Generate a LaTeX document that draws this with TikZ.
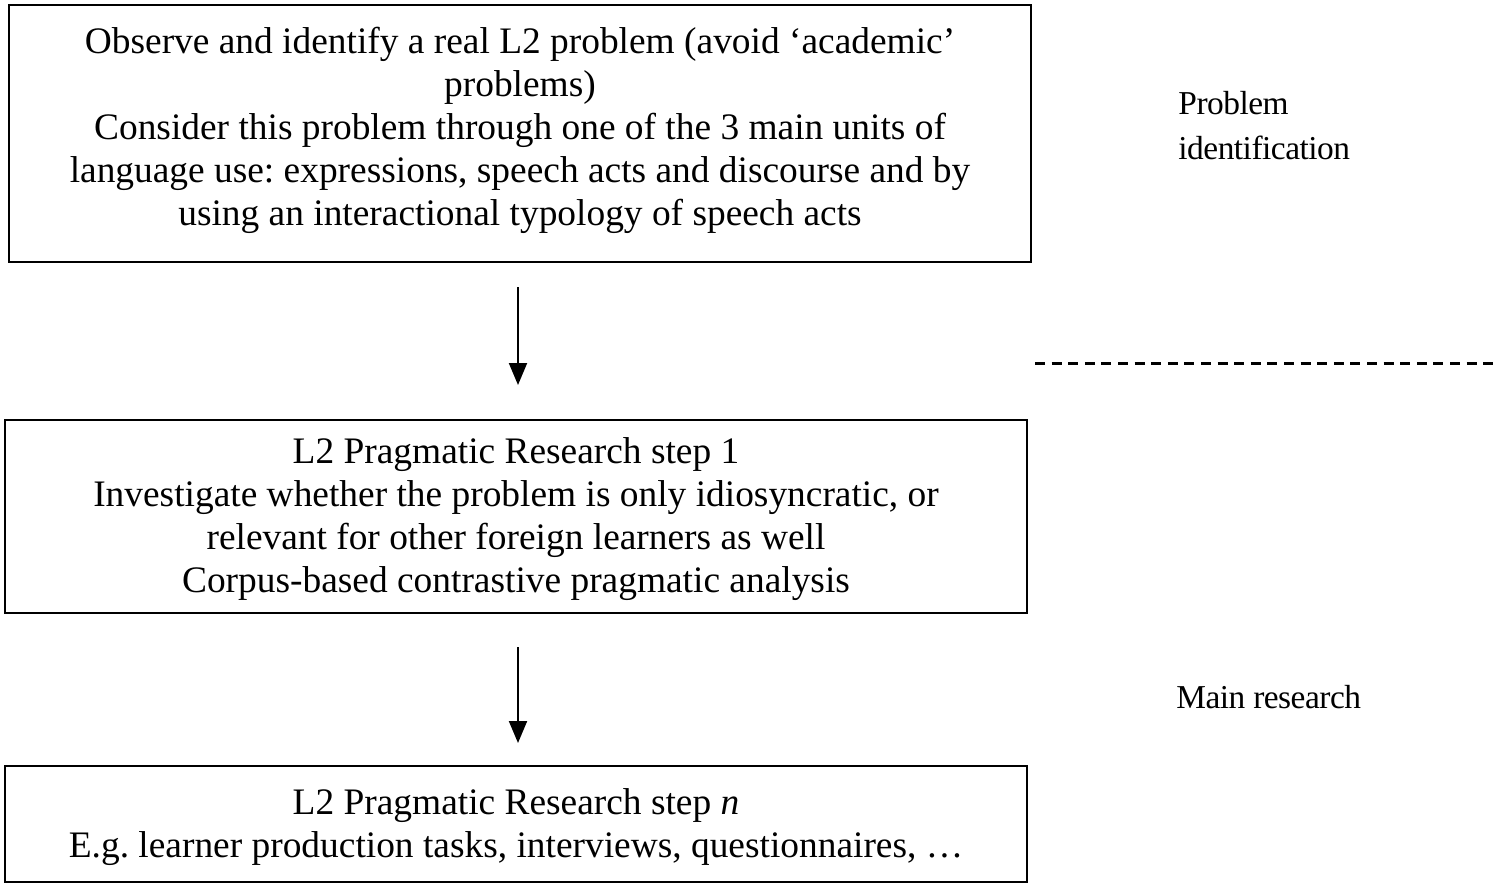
\documentclass[tikz,border=0pt]{standalone}
\usepackage{fontspec}
\setmainfont{Liberation Serif}
\newfontfamily\labelfont{Liberation Serif}[LetterSpace=-1.5]
\usetikzlibrary{arrows.meta}
\frenchspacing
\tikzset{
  stagebox/.style={draw, line width=1pt, rectangle, align=center, inner sep=0pt,
    font=\fontsize{18.7}{21.5}\selectfont},
  flowarrow/.style={line width=1pt, -{Triangle[width=9pt,length=11pt]}},
  sidelabel/.style={anchor=west, align=left, inner sep=0pt,
    font=\labelfont\fontsize{16.7}{22.5}\selectfont},
  divider/.style={line width=1.5pt, dash pattern=on 5pt off 3.3pt}
}
\begin{document}
\begin{tikzpicture}[x=0.5pt,y=-0.5pt]
\useasboundingbox (0,0) rectangle (1500,888);
\node[stagebox, minimum width=511pt, minimum height=128.5pt] (b1) at (520,133.5)
  {Observe and identify a real L2 problem (avoid ‘academic’\\problems)\\
   Consider this problem through one of the 3 main units of\\
   language use: expressions, speech acts and discourse and by\\
   using an interactional typology of speech acts\rule[-7pt]{0pt}{1pt}};
\node[stagebox, minimum width=511pt, minimum height=96.5pt] (b2) at (516,516.5)
  {\rule{0pt}{16pt}L2 Pragmatic Research step 1\\
   Investigate whether the problem is only idiosyncratic, or\\
   relevant for other foreign learners as well\\
   Corpus-based contrastive pragmatic analysis};
\node[stagebox, minimum width=511pt, minimum height=58pt] (b3) at (516,824)
  {\rule{0pt}{16pt}L2 Pragmatic Research step \textit{n}\\
   E.g. learner production tasks, interviews, questionnaires, …};
\draw[flowarrow] ([xshift=-1pt,yshift=-12pt]b1.south) -- ([xshift=1pt,yshift=17pt]b2.north);
\draw[flowarrow] ([xshift=1pt,yshift=-16.5pt]b2.south) -- ([xshift=1pt,yshift=11pt]b3.north);
\coordinate (dl) at (1035,363);
\coordinate (dr) at (1499,363);
\draw[divider] (dl) -- (dr);
\node[sidelabel] (l1) at (1178,125.5) {Problem\\identification};
\node[sidelabel] (l2) at (1176,697) {Main research};
\end{tikzpicture}
\end{document}
